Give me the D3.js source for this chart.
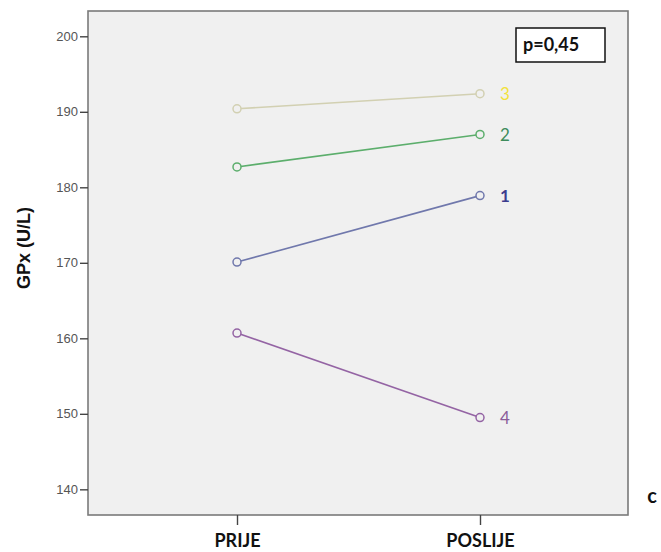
<!DOCTYPE html>
<html>
<head>
<meta charset="utf-8">
<script src="https://cdn.jsdelivr.net/npm/d3@7/dist/d3.min.js"></script>
<style>
  body { margin: 0; background: #fff; }
  svg { display: block; }
</style>
</head>
<body>
<div id="chart"></div>
<script>
// ---- data ----
const timepoints = ["PRIJE", "POSLIJE"];
const seriesNames = ["1", "2", "3", "4"];
const series1 = [170.1, 178.9];
const series2 = [182.7, 187.0];
const series3 = [190.4, 192.4];
const series4 = [160.7, 149.5];
const yTicks = [140, 150, 160, 170, 180, 190, 200];
const yTitle = "GPx (U/L)";
const pLabel = "p=0,45";
const panelLetter = "c";

const lineColors = ["#7078ac", "#5cae6c", "#d2d0b2", "#9464a4"];
const labelColors = ["#3c3c8e", "#3e8c5c", "#f2e23c", "#8a5c9a"];

const W = 661, H = 552;
const plot = { left: 88, right: 628, top: 11, bottom: 515 };

const svg = d3.select("#chart").append("svg").attr("width", W).attr("height", H);

const x = d3.scalePoint().domain(timepoints).range([237, 480]);
const y = d3.scaleLinear().domain([136.6, 203.35]).range([plot.bottom, plot.top]);

// plot background
svg.append("rect")
  .attr("x", plot.left).attr("y", plot.top)
  .attr("width", plot.right - plot.left).attr("height", plot.bottom - plot.top)
  .attr("fill", "#f0f0f0").attr("stroke", "#7a7a7a").attr("stroke-width", 1.6);

// y axis
const yAxis = svg.append("g").attr("transform", `translate(${plot.left},0)`)
  .call(d3.axisLeft(y).tickValues(yTicks).tickSize(8).tickPadding(2).tickFormat(d3.format("d")));
yAxis.select(".domain").remove();
yAxis.selectAll(".tick line").attr("stroke", "#444").attr("stroke-width", 1.4);
yAxis.selectAll(".tick text").attr("fill", "#555").style("font-family", "Liberation Sans, Arial, sans-serif")
  .style("font-size", "13px");

// x axis
const xAxis = svg.append("g").attr("transform", `translate(0,${plot.bottom})`)
  .call(d3.axisBottom(x).tickSize(10).tickPadding(9));
xAxis.select(".domain").remove();
xAxis.selectAll(".tick line").attr("stroke", "#444").attr("stroke-width", 1.4);
xAxis.selectAll(".tick text").attr("fill", "#111").style("font-family", "Lato, sans-serif")
  .style("font-weight", "bold").style("font-size", "18px");

// y title
svg.append("text")
  .attr("transform", `translate(30,248) rotate(-90)`)
  .attr("text-anchor", "middle")
  .style("font-family", "Liberation Sans, Arial, sans-serif").style("font-weight", "bold")
  .style("font-size", "18px").attr("fill", "#111")
  .text(yTitle);

// lines
const allSeries = [series1, series2, series3, series4];
const line = d3.line().x((d, i) => x(timepoints[i])).y(d => y(d));
allSeries.forEach((s, k) => {
  svg.append("path").datum(s).attr("d", line)
    .attr("fill", "none").attr("stroke", lineColors[k]).attr("stroke-width", 1.6);
  svg.selectAll(null).data(s).enter().append("circle")
    .attr("cx", (d, i) => x(timepoints[i])).attr("cy", d => y(d)).attr("r", 4)
    .attr("fill", "#f0f0f0").attr("stroke", lineColors[k]).attr("stroke-width", 1.5);
  svg.append("text")
    .attr("x", x(timepoints[1]) + 20).attr("y", y(s[1]))
    .attr("dy", "0.36em")
    .style("font-family", "Lato, sans-serif").style("font-size", "17px")
    .style("font-weight", k === 0 ? "bold" : "normal")
    .attr("fill", labelColors[k])
    .text(seriesNames[k]);
});

// p-value box
svg.append("rect").attr("x", 516).attr("y", 28).attr("width", 89).attr("height", 34)
  .attr("fill", "#fff").attr("stroke", "#111").attr("stroke-width", 1.5);
svg.append("text").attr("x", 523).attr("y", 51)
  .style("font-family", "Lato, sans-serif").style("font-weight", "bold").style("font-size", "18px")
  .attr("fill", "#111").text(pLabel);

// panel letter
svg.append("text").attr("x", 652).attr("y", 503).attr("text-anchor", "middle")
  .style("font-family", "Lato, sans-serif").style("font-weight", "bold").style("font-size", "20px")
  .attr("fill", "#111").text(panelLetter);
</script>
</body>
</html>
